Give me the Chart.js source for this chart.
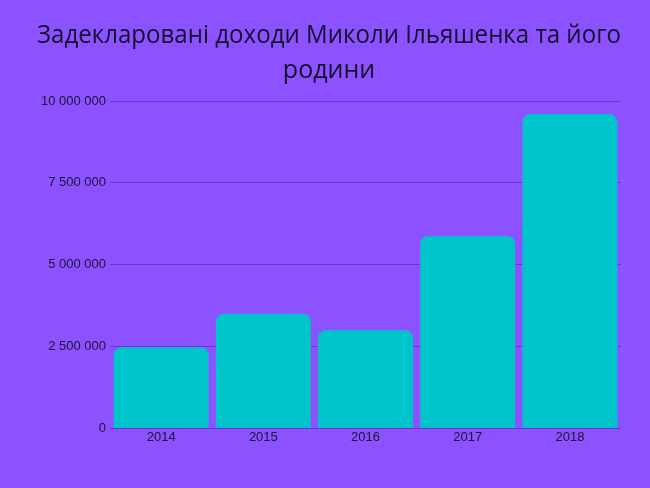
<!DOCTYPE html>
<html lang="uk">
<head>
  <meta charset="UTF-8" />
  <title>Доходи</title>
  <script src="https://cdn.jsdelivr.net/npm/chart.js"></script>
  <style>
    html, body {
      margin: 0;
      padding: 0;
      background-color: #8c52ff;
    }
    .wrap {
      width: 650px;
      height: 488px;
    }
  </style>
</head>
<body>
  <div class="wrap">
    <canvas id="incomeChart" width="650" height="488"></canvas>
  </div>

<script>
  const years = ['2014', '2015', '2016', '2017', '2018'];
  const incomes = [2480000, 3500000, 3000000, 5870000, 9600000];
  const yTicks = [0, 2500000, 5000000, 7500000, 10000000];

  function spaced(n) {
    return String(n).replace(/\B(?=(\d{3})+(?!\d))/g, ' ');
  }

  const ctx = document.getElementById('incomeChart').getContext('2d');
  const incomeChart = new Chart(ctx, {
    type: 'bar',
    data: {
      labels: years,
      datasets: [{
        label: 'Доходи',
        data: incomes,
        backgroundColor: '#00c4cc',
        borderRadius: { topLeft: 8, topRight: 8 },
        borderSkipped: 'bottom',
        barPercentage: 0.93,
        categoryPercentage: 1
      }]
    },
    options: {
      responsive: false,
      animation: false,
      layout: {
        padding: { left: 37, right: 29, top: 10, bottom: 42 }
      },
      plugins: {
        legend: { display: false },
        tooltip: { enabled: false },
        title: {
          display: true,
          text: ['Задекларовані доходи Миколи Ільяшенка та його', 'родини'],
          color: '#14102a',
          font: { family: 'Open Sans', size: 25, weight: 'normal', lineHeight: 1.4 },
          padding: { top: 8, bottom: 13 }
        }
      },
      scales: {
        x: {
          grid: { display: false, drawTicks: false, tickLength: 0 },
          border: { display: false },
          ticks: {
            color: '#1a1530',
            font: { family: 'Liberation Sans', size: 13 },
            padding: 1
          }
        },
        y: {
          min: 0,
          max: 10000000,
          afterBuildTicks: (axis) => {
            axis.ticks = yTicks.map(v => ({ value: v }));
          },
          grid: {
            color: 'rgba(95, 45, 195, 0.75)',
            lineWidth: 1,
            drawTicks: false
          },
          border: { display: false },
          ticks: {
            color: '#1a1530',
            font: { family: 'Liberation Sans', size: 13 },
            padding: 4,
            callback: (v) => spaced(v)
          }
        }
      }
    }
  });
</script>
</body>
</html>
